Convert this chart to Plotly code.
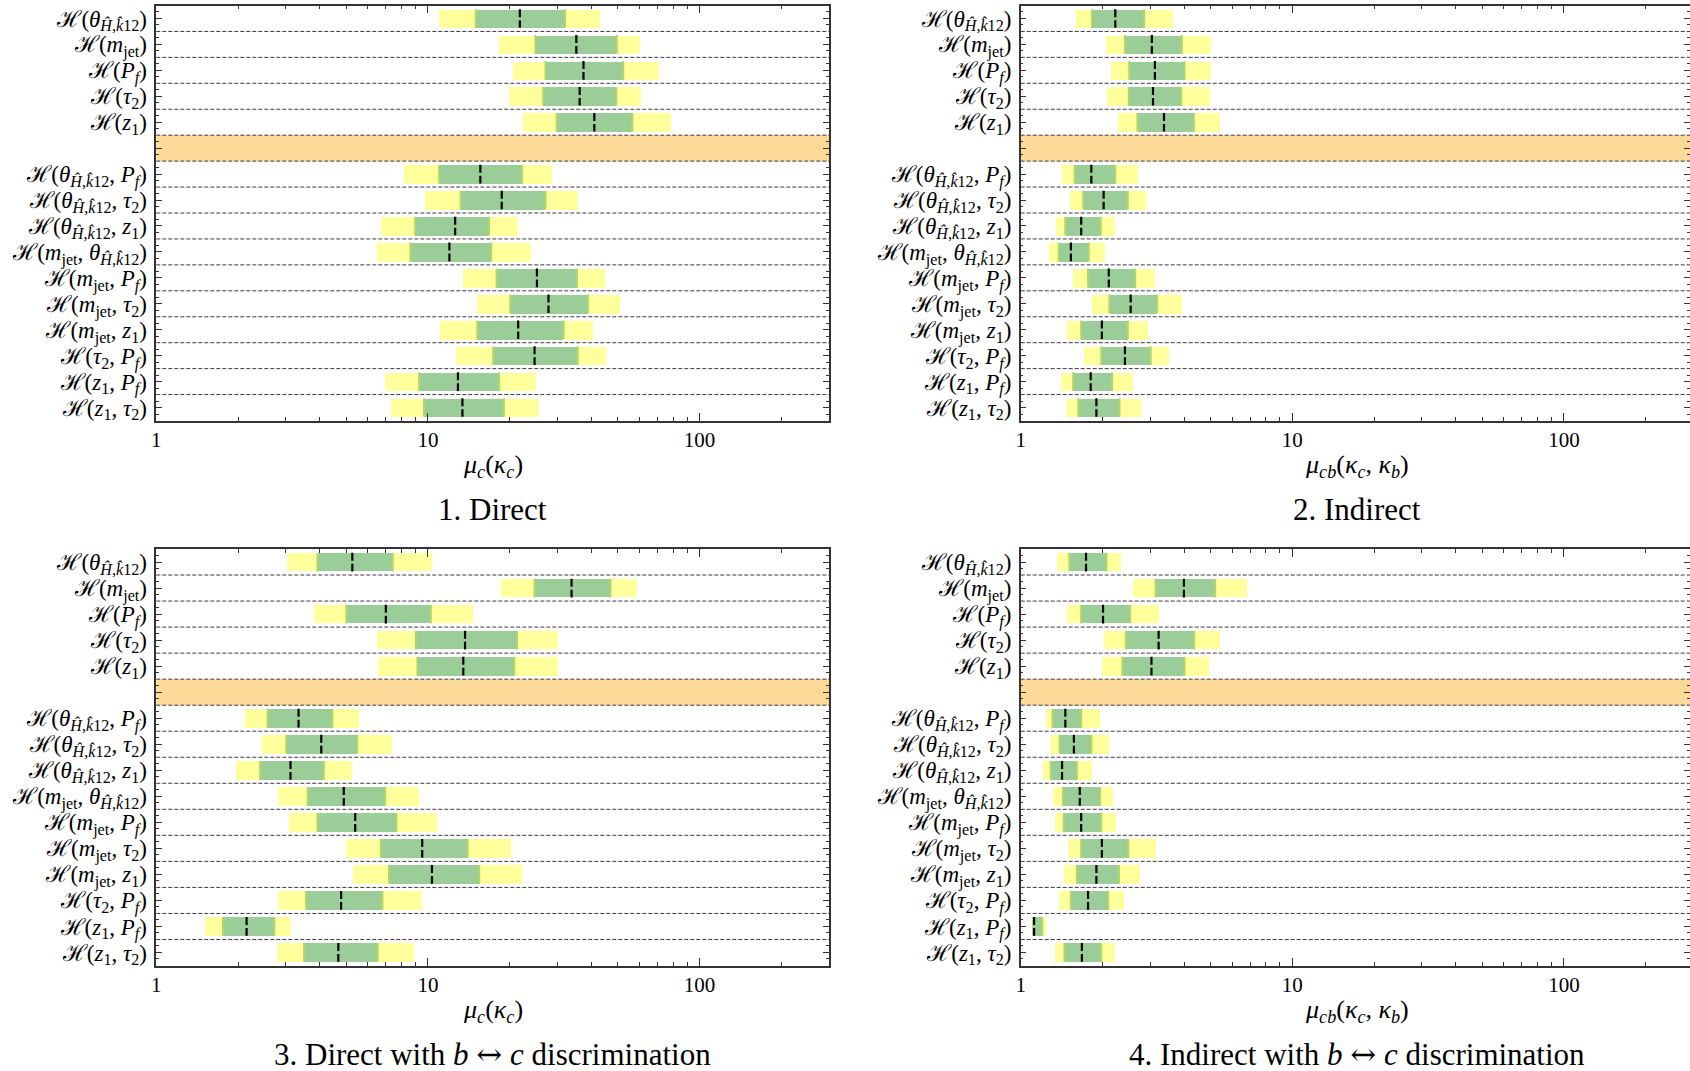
import plotly.graph_objects as go

W, H = 1690, 1071
FONT = "Liberation Serif"

# ---------------- data ----------------
TH = "<i>θ</i><sub><i>Ĥ</i>,<i>k̂</i>12</sub>"
MJ = "<i>m</i><sub>jet</sub>"
PF = "<i>P</i><sub><i>f</i></sub>"
T2 = "<i>τ</i><sub>2</sub>"
Z1 = "<i>z</i><sub>1</sub>"
HH = "ℋ"

row_labels = [
    f"{HH}({TH})", f"{HH}({MJ})", f"{HH}({PF})", f"{HH}({T2})", f"{HH}({Z1})",
    f"{HH}({TH}, {PF})", f"{HH}({TH}, {T2})", f"{HH}({TH}, {Z1})", f"{HH}({MJ}, {TH})",
    f"{HH}({MJ}, {PF})", f"{HH}({MJ}, {T2})", f"{HH}({MJ}, {Z1})", f"{HH}({T2}, {PF})",
    f"{HH}({Z1}, {PF})", f"{HH}({Z1}, {T2})",
]

# Panel 1: Direct
p1_lo2 = [11.0, 18.3, 20.6, 19.9, 22.4, 8.2, 9.8, 6.74, 6.5, 13.5, 15.2, 11.1, 12.7, 6.96, 7.32]
p1_lo1 = [15.0, 24.9, 27.1, 26.6, 29.8, 11.0, 13.2, 8.98, 8.62, 17.9, 20.1, 15.2, 17.4, 9.28, 9.67]
p1_med = [21.8, 35.2, 37.4, 36.2, 41.0, 15.6, 18.7, 12.6, 12.0, 25.2, 27.8, 21.5, 24.7, 12.9, 13.4]
p1_hi1 = [32.0, 49.6, 52.4, 49.4, 56.6, 22.2, 27.1, 16.8, 17.1, 35.4, 38.9, 31.6, 35.6, 18.3, 19.05]
p1_hi2 = [43.1, 60.6, 71.1, 60.9, 78.9, 28.6, 35.7, 21.5, 24.0, 44.9, 51.0, 40.6, 45.5, 25.0, 25.8]

# Panel 2: Indirect
p2_lo2 = [1.60, 2.06, 2.14, 2.08, 2.27, 1.41, 1.51, 1.34, 1.27, 1.56, 1.82, 1.48, 1.71, 1.40, 1.47]
p2_lo1 = [1.83, 2.42, 2.51, 2.50, 2.69, 1.58, 1.70, 1.46, 1.38, 1.77, 2.12, 1.67, 1.98, 1.56, 1.63]
p2_med = [2.23, 3.04, 3.12, 3.07, 3.37, 1.82, 2.02, 1.67, 1.53, 2.11, 2.54, 1.99, 2.42, 1.81, 1.90]
p2_hi1 = [2.85, 3.92, 4.01, 3.90, 4.34, 2.23, 2.48, 1.97, 1.78, 2.64, 3.18, 2.48, 3.01, 2.17, 2.31]
p2_hi2 = [3.63, 4.99, 4.99, 4.97, 5.40, 2.70, 2.89, 2.21, 2.04, 3.11, 3.92, 2.93, 3.50, 2.59, 2.77]

# Panel 3: Direct with b<->c discrimination
p3_lo2 = [3.04, 18.7, 3.82, 6.50, 6.59, 2.13, 2.46, 1.97, 2.81, 3.09, 4.99, 5.30, 2.81, 1.51, 2.80]
p3_lo1 = [3.92, 24.7, 5.01, 9.03, 9.15, 2.57, 3.01, 2.41, 3.61, 3.92, 6.71, 7.19, 3.56, 1.76, 3.50]
p3_med = [5.27, 33.8, 7.00, 13.7, 13.5, 3.34, 4.05, 3.12, 4.90, 5.40, 9.53, 10.35, 4.79, 2.15, 4.68]
p3_hi1 = [7.42, 47.0, 10.25, 21.3, 20.8, 4.45, 5.49, 4.14, 6.96, 7.66, 14.0, 15.45, 6.80, 2.72, 6.53]
p3_hi2 = [10.35, 58.9, 14.7, 30.3, 30.2, 5.59, 7.38, 5.27, 9.32, 10.8, 20.2, 22.2, 9.53, 3.15, 8.94]

# Panel 4: Indirect with b<->c discrimination
p4_lo2 = [1.36, 2.58, 1.48, 2.02, 1.98, 1.24, 1.28, 1.21, 1.31, 1.33, 1.49, 1.44, 1.38, 1.10, 1.33]
p4_lo1 = [1.51, 3.14, 1.67, 2.44, 2.37, 1.31, 1.39, 1.29, 1.43, 1.44, 1.67, 1.61, 1.53, 1.11, 1.45]
p4_med = [1.74, 3.99, 2.01, 3.22, 3.03, 1.46, 1.57, 1.42, 1.65, 1.67, 1.99, 1.90, 1.77, 1.12, 1.68]
p4_hi1 = [2.07, 5.20, 2.53, 4.35, 4.01, 1.67, 1.82, 1.61, 1.96, 1.98, 2.49, 2.30, 2.10, 1.20, 1.98]
p4_hi2 = [2.34, 6.77, 3.22, 5.42, 4.92, 1.95, 2.11, 1.82, 2.18, 2.23, 3.15, 2.75, 2.39, 1.24, 2.22]

x_tickvals = [1, 10, 100]
x_ticktext = ["1", "10", "100"]

ARROW = "<span style='font-family:DejaVu Serif'>↔</span>"
captions = [
    "1. Direct",
    "2. Indirect",
    f"3. Direct with <i>b</i> {ARROW} <i>c</i> discrimination",
    f"4. Indirect with <i>b</i> {ARROW} <i>c</i> discrimination",
]
xtitles = [
    "<i>μ<sub>c</sub></i>(<i>κ<sub>c</sub></i>)",
    "<i>μ<sub>cb</sub></i>(<i>κ<sub>c</sub></i>, <i>κ<sub>b</sub></i>)",
    "<i>μ<sub>c</sub></i>(<i>κ<sub>c</sub></i>)",
    "<i>μ<sub>cb</sub></i>(<i>κ<sub>c</sub></i>, <i>κ<sub>b</sub></i>)",
]

panels = [
    (p1_lo2, p1_lo1, p1_med, p1_hi1, p1_hi2),
    (p2_lo2, p2_lo1, p2_med, p2_hi1, p2_hi2),
    (p3_lo2, p3_lo1, p3_med, p3_hi1, p3_hi2),
    (p4_lo2, p4_lo1, p4_med, p4_hi1, p4_hi2),
]

# ---------------- styling / layout ----------------
YELLOW = "#FFFF9C"
GREEN = "#9BCD99"
EDGE = "#B2D669"
ORANGE = "#FDDA98"
FRAME = "#333333"
BAND_ROW = 5
N_SLOTS = 16
rows = [i for i in range(N_SLOTS) if i != BAND_ROW]
BW = 0.72
HALF = BW / 2

# pixel geometry
dec_px = 271.6
left_x0 = 156.3
right_x0 = 1020.7
xmax_log = 2.477
panel_px = [
    (left_x0, left_x0 + xmax_log * dec_px, 5.5, 420.5),
    (right_x0, W, 5.5, 420.5),
    (left_x0, left_x0 + xmax_log * dec_px, 549.0, 965.5),
    (right_x0, W, 549.0, 965.5),
]
label_y_px = [(436, 466, 509), (436, 466, 509), (981, 1011, 1054), (981, 1011, 1054)]

fig = go.Figure()
shapes = []
annotations = []
layout_axes = {}

ylabels_full = []
k = 0
for i in range(N_SLOTS):
    if i == BAND_ROW:
        ylabels_full.append(" ")
    else:
        ylabels_full.append(row_labels[k])
        k += 1

minor_x = [m * 10 ** d for d in range(0, 3) for m in range(2, 10) if m * 10 ** d <= 300]
minor_y = [r + s for r in range(N_SLOTS) for s in (-0.25, 0.25)]

for p, (lo2, lo1, med, hi1, hi2) in enumerate(panels):
    n = p + 1
    suf = "" if n == 1 else str(n)
    xa, ya = f"x{suf}", f"y{suf}"
    x0p, x1p, y0p, y1p = panel_px[p]
    xr = [0, (x1p - x0p) / dec_px]

    fig.add_trace(go.Bar(
        x=[b - a for a, b in zip(lo2, hi2)], base=lo2, y=rows, orientation="h",
        width=BW, marker=dict(color=YELLOW, line=dict(width=0)),
        xaxis=xa, yaxis=ya, showlegend=False, hoverinfo="skip"))
    fig.add_trace(go.Bar(
        x=[b - a for a, b in zip(lo1, hi1)], base=lo1, y=rows, orientation="h",
        width=BW, marker=dict(color=GREEN, line=dict(width=0)),
        xaxis=xa, yaxis=ya, showlegend=False, hoverinfo="skip"))

    ex, ey = [], []
    for r, a, b in zip(rows, lo1, hi1):
        ex += [a, a, None, b, b, None]
        ey += [r - HALF, r + HALF, None, r - HALF, r + HALF, None]
    fig.add_trace(go.Scatter(x=ex, y=ey, mode="lines",
                             line=dict(color=EDGE, width=2),
                             xaxis=xa, yaxis=ya, showlegend=False, hoverinfo="skip"))

    mx, my = [], []
    for r, m in zip(rows, med):
        mx += [m, m, None]
        my += [r - HALF, r + HALF, None]
    fig.add_trace(go.Scatter(x=mx, y=my, mode="lines",
                             line=dict(color="black", width=2.2, dash="8px,3px"),
                             xaxis=xa, yaxis=ya, showlegend=False, hoverinfo="skip"))

    dom_x = [x0p / W, min(1.0, x1p / W)]
    dom_y = [1 - y1p / H, 1 - y0p / H]
    layout_axes[f"xaxis{suf}"] = dict(
        type="log", range=xr, domain=dom_x, anchor=ya, automargin=False,
        showline=True, linecolor=FRAME, linewidth=1.5, mirror="ticks",
        ticks="inside", ticklen=8, tickwidth=1.2, tickcolor=FRAME,
        tickvals=x_tickvals, ticktext=x_ticktext,
        minor=dict(ticks="inside", ticklen=4, tickwidth=1, tickcolor=FRAME, tickvals=minor_x),
        showgrid=False, zeroline=False,
        tickfont=dict(family=FONT, size=21, color="black"),
    )
    layout_axes[f"yaxis{suf}"] = dict(
        range=[N_SLOTS - 0.5, -0.5], domain=dom_y, anchor=xa, automargin=False,
        showline=True, linecolor=FRAME, linewidth=1.5, mirror="ticks",
        ticks="inside", ticklen=6, tickwidth=1.2, tickcolor=FRAME,
        tickvals=list(range(N_SLOTS)), ticktext=ylabels_full,
        minor=dict(ticks="inside", ticklen=3, tickwidth=1, tickcolor=FRAME, tickvals=minor_y),
        showgrid=False, zeroline=False, ticklabelstandoff=3,
        tickfont=dict(family=FONT, size=23, color="black"),
    )

    shapes.append(dict(type="rect", xref=f"{xa} domain", yref=ya, x0=0, x1=1,
                       y0=BAND_ROW - 0.5, y1=BAND_ROW + 0.5,
                       fillcolor=ORANGE, line=dict(width=0), layer="below"))
    for b in range(N_SLOTS - 1):
        shapes.append(dict(type="line", xref=f"{xa} domain", yref=ya, x0=0, x1=1,
                           y0=b + 0.5, y1=b + 0.5,
                           line=dict(color="#3a3a3a", width=1, dash="4px,2px"), layer="below"))

    cx = (x0p + x0p + xmax_log * dec_px) / 2 / W
    _, ty, cy = label_y_px[p]
    annotations.append(dict(text=xtitles[p], x=cx, y=1 - ty / H, xref="paper", yref="paper",
                            xanchor="center", yanchor="middle", showarrow=False,
                            font=dict(family=FONT, size=26, color="black")))
    annotations.append(dict(text=captions[p], x=cx, y=1 - cy / H, xref="paper", yref="paper",
                            xanchor="center", yanchor="middle", showarrow=False,
                            font=dict(family=FONT, size=31, color="black")))

fig.update_layout(
    width=W, height=H, margin=dict(l=0, r=0, t=0, b=0, autoexpand=False),
    paper_bgcolor="white", plot_bgcolor="white",
    barmode="overlay", bargap=0,
    shapes=shapes, annotations=annotations,
    font=dict(family=FONT, color="black"),
    **layout_axes,
)

fig.write_html(
    "out.html",
    config={"displayModeBar": False},
    post_script="document.body.style.margin='0';document.body.style.overflow='hidden';",
)
